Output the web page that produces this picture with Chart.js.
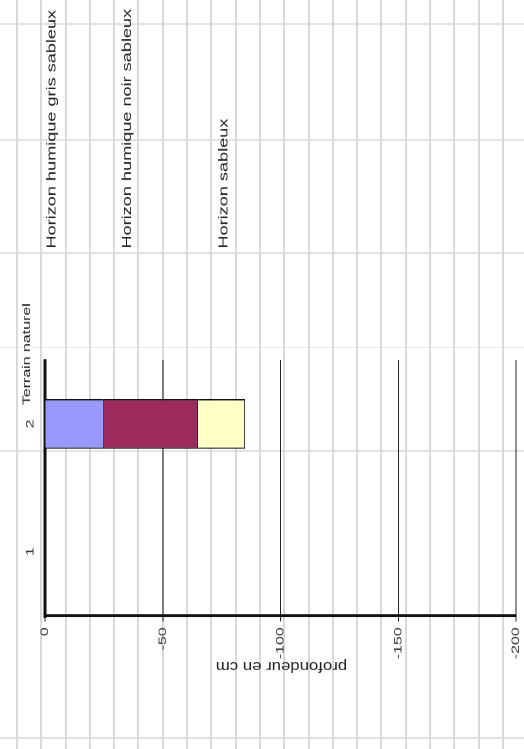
<!DOCTYPE html>
<html>
<head>
<meta charset="utf-8">
<title>Profil de sol</title>
<script src="https://cdn.jsdelivr.net/npm/chart.js@4/dist/chart.umd.min.js"></script>
<style>
  html, body { margin: 0; padding: 0; }
  body {
    width: 524px;
    height: 749px;
    overflow: hidden;
    position: relative;
    background-color: #fff;
    /* scanned sheet grid behind the chart */
    background-image:
      repeating-linear-gradient(to right, transparent 0 16px, #d9d9d9 16px 18px, transparent 18px 24.3px),
      linear-gradient(to bottom, transparent 0 23px, #e3e3e3 23px 25px, transparent 25px 139px, #e3e3e3 139px 141px,
        transparent 141px 252px, #e3e3e3 252px 254px, transparent 254px 347px, #ececec 347px 348px,
        transparent 348px 450px, #e3e3e3 450px 452px, transparent 452px 737px, #e3e3e3 737px 739px, transparent 739px);
  }
  /* the sheet was scanned sideways and stretched: draw upright, then stretch and turn */
  #wrap {
    position: absolute;
    left: 0;
    top: 0;
    width: 517px;
    height: 524px;
    transform-origin: 0 0;
    transform: translateY(749px) rotate(-90deg) scaleX(1.4487);
  }
</style>
</head>
<body>
<div id="wrap">
  <canvas id="profil" width="517" height="524"></canvas>
</div>
<script>
// data
const categories = ['1', '2'];
const horizonNames = ['Horizon humique gris sableux', 'Horizon humique noir sableux', 'Horizon sableux'];
const grisSableux = [null, -25];
const noirSableux = [null, -40];
const sableux = [null, -20];
const depthTicks = [0, -50, -100, -150, -200];
const labelDepth = [-3, -35, -76];
const surfaceLabel = 'Terrain naturel';
const axisTitle = 'profondeur en cm';

const FONT = '"Liberation Sans", Arial, sans-serif';

// text beside the profile + the depth axis title
const horizonLabels = {
  id: 'horizonLabels',
  afterDraw(chart) {
    const { ctx, chartArea, scales } = chart;
    ctx.save();
    ctx.fillStyle = '#222';
    ctx.textAlign = 'left';
    ctx.textBaseline = 'middle';
    ctx.font = '11px ' + FONT;
    ctx.fillText(surfaceLabel, scales.x.getPixelForValue(1) + 13, chartArea.top - 18);
    ctx.font = '12.5px ' + FONT;
    horizonNames.forEach((name, i) => {
      ctx.fillText(name, chartArea.right + 77, scales.y.getPixelForValue(labelDepth[i]));
    });

    // title runs across the stretch, so widen it by hand
    ctx.translate(57.3, (chartArea.top + chartArea.bottom) / 2 + 1);
    ctx.rotate(-Math.PI / 2);
    ctx.scale(1.34, 0.78);
    ctx.textAlign = 'center';
    ctx.font = '12.5px ' + FONT;
    ctx.fillText(axisTitle, 0, 0);
    ctx.restore();
  }
};

const barStyle = { borderColor: '#111', borderWidth: 1, barPercentage: 0.39, categoryPercentage: 1 };

new Chart(document.getElementById('profil'), {
  type: 'bar',
  data: {
    labels: categories,
    datasets: [
      { label: horizonNames[0], data: grisSableux, backgroundColor: '#9a99fb', ...barStyle },
      { label: horizonNames[1], data: noirSableux, backgroundColor: '#9c2a5c', ...barStyle },
      { label: horizonNames[2], data: sableux, backgroundColor: '#ffffc6', ...barStyle },
    ],
  },
  options: {
    responsive: false,
    animation: false,
    devicePixelRatio: 2,
    layout: {
      padding: { left: 50, right: 248.5, top: 0, bottom: 8 },
    },
    plugins: {
      legend: { display: false },
      tooltip: { enabled: false },
    },
    scales: {
      x: {
        position: 'top',
        stacked: true,
        grid: { display: false, drawTicks: false },
        border: { display: true, color: '#111', width: 3 },
        ticks: { color: '#333', padding: 8, font: { family: FONT, size: 11 } },
        afterFit: (scale) => { scale.height = 45; },
      },
      y: {
        stacked: true,
        min: -200,
        max: 0,
        afterBuildTicks: (scale) => { scale.ticks = depthTicks.map(v => ({ value: v })); },
        grid: { color: '#222', tickColor: '#222', lineWidth: 1, tickLength: 4 },
        border: { color: '#111', width: 2 },
        ticks: { color: '#333', padding: 4, font: { family: FONT, size: 11 } },
        afterFit: (scale) => {
          scale.width = 42;
          scale.paddingTop = 0;
          scale.paddingBottom = 0;
        },
      },
    },
  },
  plugins: [horizonLabels],
});
</script>
</body>
</html>
